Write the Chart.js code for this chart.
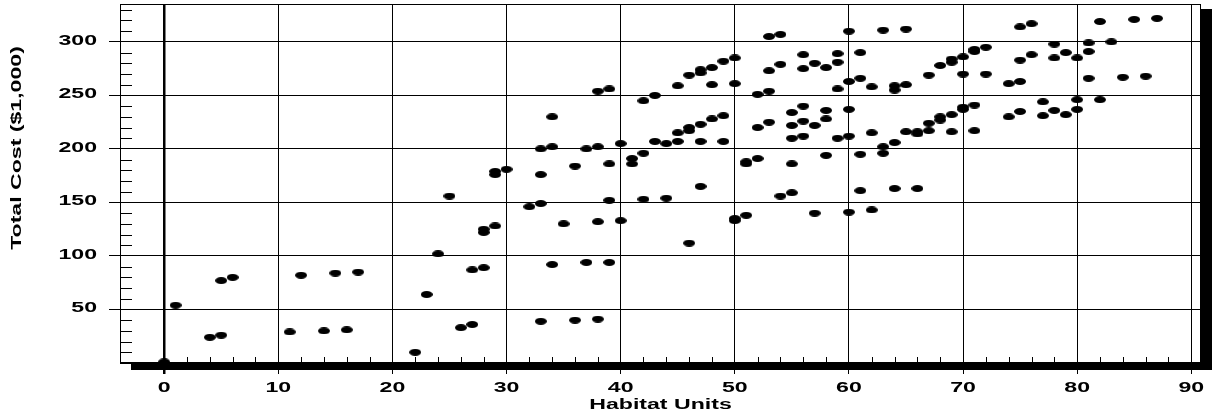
<!DOCTYPE html>
<html>
<head>
<meta charset="utf-8">
<script src="https://cdn.jsdelivr.net/npm/chart.js@4.4.1/dist/chart.umd.min.js"></script>
<style>
  html, body { margin: 0; padding: 0; background: #fff; }
  #wrap { width: 1212px; height: 415px; }
</style>
</head>
<body>
<div id="wrap"><canvas id="chart" width="1212" height="415"></canvas></div>
<script>
// Dados (Habitat Units x Total Cost)
const habitatUnits = [
  0, 1, 4, 5, 5, 6, 11, 12, 14, 15, 16, 17,
  22, 23, 24, 25, 26, 27, 27, 28, 28, 28, 29, 29, 29, 30,
  32, 33, 33, 33, 33, 34, 34, 34, 35, 36, 36, 37, 37,
  38, 38, 38, 38, 39, 39, 39, 39, 40, 40, 41, 41,
  42, 42, 42, 43, 43, 44, 44, 45, 45, 45, 46, 46, 46, 46,
  47, 47, 47, 47, 47, 48, 48, 48, 49, 49, 49, 50, 50, 50, 50,
  51, 51, 51, 52, 52, 52, 53, 53, 53, 53, 54, 54, 54,
  55, 55, 55, 55, 55,
  56, 56, 56, 56, 56,
  57, 57, 57,
  58, 58, 58, 58,
  59, 59, 59, 59,
  60, 60, 60, 60, 60,
  61, 61, 61, 61,
  62, 62, 62,
  63, 63, 63,
  64, 64, 64, 64,
  65, 65, 65,
  66, 66, 66,
  67, 67, 67,
  68, 68, 68,
  69, 69, 69, 69,
  70, 70, 70, 70,
  71, 71, 71, 71,
  72, 72,
  74, 74,
  75, 75, 75, 75,
  76, 76,
  77, 77,
  78, 78, 78,
  79, 79,
  80, 80, 80,
  81, 81, 81,
  82, 82,
  83, 84, 85, 86, 87
];
const totalCost = [
  1, 54, 24, 26, 77, 80, 29, 82, 30, 84, 31, 85,
  10, 64, 102, 156, 33, 36, 87, 89, 122, 125, 128, 176, 179, 181,
  146, 149, 176, 200, 39, 230, 202, 92, 130, 184, 40, 200, 94,
  202, 132, 41, 254, 256, 186, 152, 94, 205, 133, 191, 186,
  196, 245, 153, 250, 207, 205, 154, 259, 215, 207, 269, 217, 220, 112,
  271, 274, 223, 207, 165, 276, 260, 228, 282, 231, 207, 285, 261, 133, 135,
  186, 188, 138, 251, 220, 191, 305, 273, 254, 225, 307, 279, 156,
  234, 222, 210, 186, 159,
  288, 275, 240, 226, 212,
  280, 222, 140,
  276, 236, 228, 194,
  289, 281, 256, 210,
  310, 263, 237, 212, 141,
  290, 266, 195, 161,
  258, 215, 143,
  311, 202, 196,
  259, 255, 206, 163,
  312, 260, 216,
  214, 216, 163,
  269, 224, 217,
  278, 230, 227,
  281, 284, 232, 216,
  286, 270, 237, 239,
  291, 293, 241, 217,
  295, 270,
  261, 230,
  314, 283, 263, 235,
  317, 288,
  244, 231,
  298, 285, 236,
  290, 232,
  285, 246, 237,
  299, 291, 266,
  319, 246,
  300, 267, 321, 268, 322
];

// Marcas dos eixos
const xTicks = [0, 10, 20, 30, 40, 50, 60, 70, 80, 90];
const yTicks = [50, 100, 150, 200, 250, 300];

const points = habitatUnits.map((x, i) => ({ x: x, y: totalCost[i] }));

// Marcador elíptico
const dot = document.createElement('canvas');
dot.width = 12;
dot.height = 7;
const dctx = dot.getContext('2d');
dctx.fillStyle = '#000';
dctx.beginPath();
dctx.ellipse(6, 3.5, 6, 3.5, 0, 0, Math.PI * 2);
dctx.fill();

const FONT = 'bold 14px "Liberation Sans", Arial, sans-serif';
const STRETCH = 1.65;

function wideText(ctx, text, x, y, align, rotate) {
    ctx.save();
    ctx.translate(x, y);
    if (rotate) ctx.rotate(-Math.PI / 2);
    ctx.scale(STRETCH, 1);
    ctx.textAlign = align;
    ctx.textBaseline = 'middle';
    ctx.fillText(text, 0, 0);
    ctx.restore();
}

// Moldura, sombra e marcas menores
const framePlugin = {
    id: 'frame',
    beforeDatasetsDraw(chart) {
        const { ctx, chartArea: a, scales } = chart;
        ctx.save();
        ctx.fillStyle = '#000';
        ctx.fillRect(a.left + 11, a.bottom, a.right - a.left + 1, 7);
        ctx.fillRect(a.right, a.top + 5, 11, a.bottom - a.top + 2);

        ctx.strokeStyle = '#000';
        ctx.lineWidth = 1;
        ctx.strokeRect(a.left + 0.5, a.top + 0.5, a.right - a.left - 1, a.bottom - a.top - 1);

        ctx.beginPath();
        for (let v = 10; v < scales.y.max; v += 10) {
            if (v % 50 === 0) continue;
            const py = Math.round(scales.y.getPixelForValue(v)) + 0.5;
            ctx.moveTo(a.left, py);
            ctx.lineTo(a.left + 12, py);
        }
        for (let v = 2; v < 90; v += 2) {
            if (v % 10 === 0) continue;
            const px = Math.round(scales.x.getPixelForValue(v)) + 0.5;
            ctx.moveTo(px, a.bottom);
            ctx.lineTo(px, a.bottom - 6);
        }
        ctx.stroke();
        ctx.restore();
    },
    afterDraw(chart) {
        const { ctx, chartArea: a, scales } = chart;
        ctx.save();
        ctx.fillStyle = '#000';
        ctx.font = FONT;
        yTicks.forEach(v => wideText(ctx, String(v), 97, scales.y.getPixelForValue(v) - 1, 'right'));
        xTicks.forEach(v => wideText(ctx, String(v), scales.x.getPixelForValue(v), 388, 'center'));
        wideText(ctx, 'Habitat Units', (a.left + a.right) / 2, 405, 'center');
        wideText(ctx, 'Total Cost ($1,000)', 17, 148, 'center', true);
        ctx.restore();
    }
};

const chart = new Chart(document.getElementById('chart').getContext('2d'), {
    type: 'scatter',
    data: {
        datasets: [{
            data: points,
            pointStyle: dot,
            backgroundColor: '#000',
            borderWidth: 0
        }]
    },
    options: {
        responsive: false,
        animation: false,
        events: [],
        layout: { padding: { top: 3, right: 11, left: 0, bottom: 0 } },
        plugins: {
            legend: { display: false },
            tooltip: { enabled: false }
        },
        scales: {
            x: {
                type: 'linear',
                min: -3.87,
                max: 90.85,
                afterBuildTicks: s => { s.ticks = xTicks.map(v => ({ value: v })); },
                afterFit: s => { s.height = 52; },
                ticks: { display: false },
                grid: {
                    color: '#000',
                    lineWidth: c => (c.tick && c.tick.value === 0 ? 2.5 : 1),
                    tickLength: 11
                },
                border: { display: true, color: '#000', width: 1 }
            },
            y: {
                type: 'linear',
                min: 0,
                max: 335.4,
                afterBuildTicks: s => { s.ticks = yTicks.map(v => ({ value: v })); },
                afterFit: s => { s.width = 120; },
                ticks: { display: false },
                grid: { color: '#000', lineWidth: 1, tickLength: 11 },
                border: { display: true, color: '#000', width: 1 }
            }
        }
    },
    plugins: [framePlugin]
});
</script>
</body>
</html>
